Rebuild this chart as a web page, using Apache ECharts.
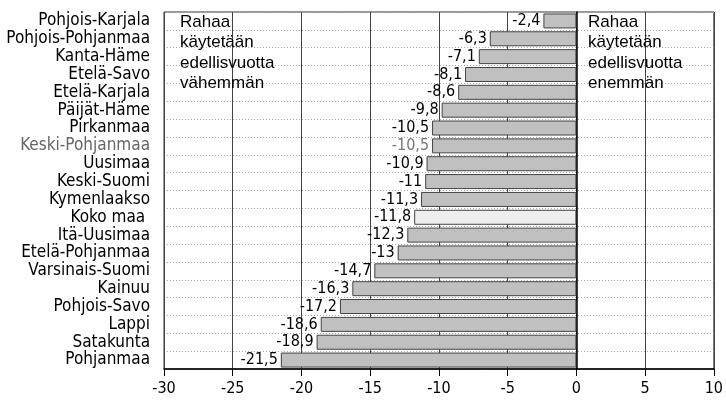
<!DOCTYPE html>
<html><head><meta charset="utf-8">
<script src="https://cdn.jsdelivr.net/npm/echarts@6/dist/echarts.min.js"></script>
<style>html,body{margin:0;padding:0;background:#fff}#c{width:726px;height:403px}</style>
</head><body><div id="c"></div>
<script>
const categories = ["Pohjois-Karjala","Pohjois-Pohjanmaa","Kanta-Häme","Etelä-Savo","Etelä-Karjala","Päijät-Häme","Pirkanmaa","Keski-Pohjanmaa","Uusimaa","Keski-Suomi","Kymenlaakso","Koko maa ","Itä-Uusimaa","Etelä-Pohjanmaa","Varsinais-Suomi","Kainuu","Pohjois-Savo","Lappi","Satakunta","Pohjanmaa"];
const values = [-2.4,-6.3,-7.1,-8.1,-8.6,-9.8,-10.5,-10.5,-10.9,-11,-11.3,-11.8,-12.3,-13,-14.7,-16.3,-17.2,-18.6,-18.9,-21.5];
const xTicks = [-30,-25,-20,-15,-10,-5,0,5,10];
const leftNote = "Rahaa\nkäytetään\nedellisvuotta\nvähemmän";
const rightNote = "Rahaa\nkäytetään\nedellisvuotta\nenemmän";

const NARROW = '"Liberation Sans Narrow","DejaVu Sans Condensed",sans-serif';
const chart = echarts.init(document.getElementById('c'));
const data = values.map((v, i) => {
  const isTotal = categories[i].trim() === 'Koko maa';
  const isGray = categories[i] === 'Keski-Pohjanmaa';
  return {
    value: v,
    itemStyle: { color: isTotal ? '#eeeeee' : '#c0c0c0' },
    label: { color: isGray ? '#777' : '#000' }
  };
});
chart.setOption({
  animation: false,
  grid: { left: 164, right: 8, top: 12, bottom: 34, show: true, borderColor: '#333', borderWidth: 1, containLabel: false },
  xAxis: {
    type: 'value', min: xTicks[0], max: xTicks[xTicks.length-1], interval: 5,
    axisLine: { show: true, onZero: false, lineStyle: { color: '#000', width: 1.5 } },
    axisTick: { show: true, length: 7, lineStyle: { color: '#000' } },
    axisLabel: { fontFamily: NARROW, fontSize: 16, color: '#000', margin: 12 },
    splitLine: { show: true, lineStyle: { color: '#444', width: 1 } }
  },
  yAxis: {
    type: 'category', data: categories, inverse: true,
    axisLine: { show: true, lineStyle: { color: '#000', width: 1.5 } },
    axisTick: { show: false, interval: 0 },
    axisLabel: {
      interval: 0,
      fontFamily: NARROW, fontSize: 17, margin: 14,
      color: (v) => v === 'Keski-Pohjanmaa' ? '#666' : '#000'
    },
    splitLine: { show: true, interval: 0, lineStyle: { color: '#aaa', type: [1, 2], width: 1 } }
  },
  series: [{
    type: 'bar', data: data, barCategoryGap: '16%',
    itemStyle: { borderColor: '#444', borderWidth: 1 },
    label: {
      show: true, position: 'left', distance: 3,
      fontFamily: NARROW, fontSize: 16,
      formatter: (p) => String(p.value).replace('.', ',')
    },
    z: 3
  }],
  graphic: [
    { type: 'text', left: 180, top: 12, z: 10, style: { text: leftNote, font: '17px "Liberation Sans",Arial,sans-serif', lineHeight: 20.5, fill: '#000' } },
    { type: 'text', left: 588, top: 12, z: 10, style: { text: rightNote, font: '17px "Liberation Sans",Arial,sans-serif', lineHeight: 20.5, fill: '#000' } }
  ]
});
</script></body></html>
